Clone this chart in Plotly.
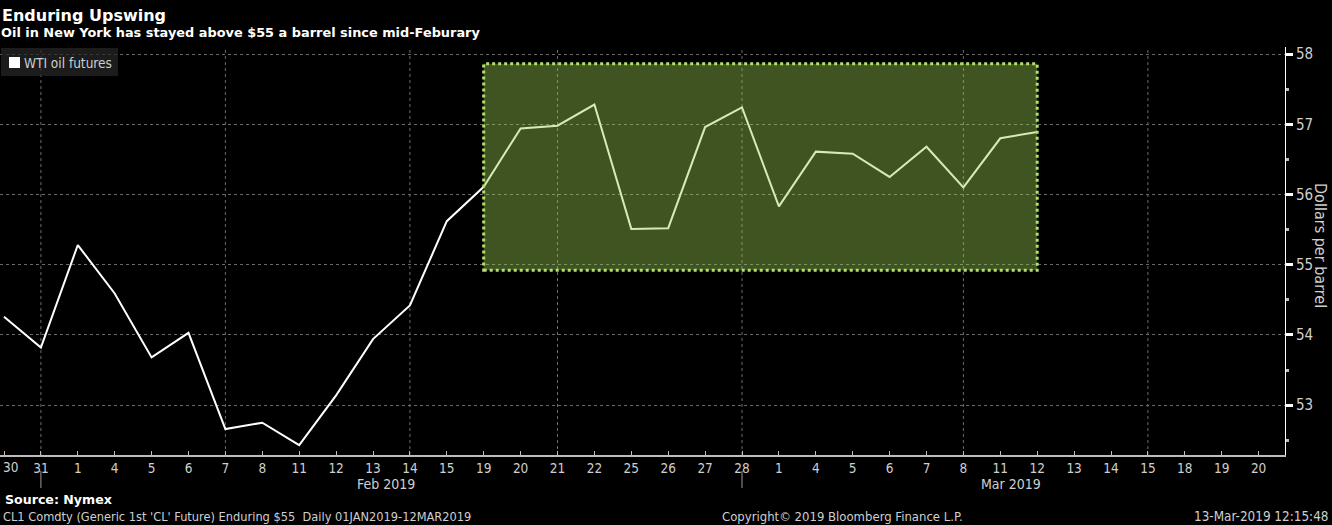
import plotly.graph_objects as go

# ---------------- data ----------------
TICK_LABELS = ["30", "31", "1", "4", "5", "6", "7", "8", "11", "12", "13", "14", "15",
               "19", "20", "21", "22", "25", "26", "27", "28",
               "1", "4", "5", "6", "7", "8", "11", "12", "13", "14", "15", "18", "19", "20"]
# WTI front-month settlements, 30 Jan 2019 .. 12 Mar 2019
WTI_PRICES = [54.26, 53.82, 55.28, 54.59, 53.68, 54.03, 52.66, 52.75, 52.43, 53.14,
              53.94, 54.42, 55.62, 56.11, 56.94, 56.98, 57.28, 55.51, 55.52, 56.96,
              57.24, 55.83, 56.61, 56.58, 56.25, 56.68, 56.10, 56.80, 56.89]
SERIES_NAME = "WTI oil futures"
Y_TICKS = [53, 54, 55, 56, 57, 58]
GRID_INDEX = [1, 6, 11, 15, 20, 26, 31]          # weekly vertical gridlines
MONTH_END_INDEX = [1, 20]                          # 31 Jan, 28 Feb separators
MONTH_LABELS = ["Feb 2019", "Mar 2019"]
MONTH_LABEL_POS = [10.35, 27.3]
HIGHLIGHT_X = [13, 28]                             # 19 Feb .. 12 Mar
HIGHLIGHT_Y = [54.92, 57.86]

# ---------------- geometry helpers ----------------
W, H = 1332, 525
PL, PR, PT, PB = 0, 1285, 47, 455      # plot area in pixels
def px(xp):
    return (xp - PL) / (PR - PL)
def py(yp):
    return (PB - yp) / (PB - PT)

NARROW = "Liberation Sans Narrow, DejaVu Sans Condensed, Arial Narrow, sans-serif"
BOLD = "DejaVu Sans, Verdana, sans-serif"
GREY = "#cfcfcf"

x_idx = list(range(len(WTI_PRICES)))
# first label sits at the very page edge: it is drawn left-anchored below instead
tick_text = [""] + TICK_LABELS[1:]

fig = go.Figure()
fig.add_trace(go.Scatter(x=x_idx, y=WTI_PRICES, mode="lines", name=SERIES_NAME,
                         line=dict(color="white", width=2), showlegend=False,
                         hoverinfo="skip"))

shapes = []
for gi in GRID_INDEX:
    shapes.append(dict(type="line", xref="x", yref="paper", x0=gi, x1=gi, y0=0, y1=1,
                       line=dict(color="#6b6b6b", width=1, dash="dot"), layer="below"))
for mi in MONTH_END_INDEX:
    shapes.append(dict(type="line", xref="x", yref="paper", x0=mi, x1=mi,
                       y0=py(471), y1=py(488), line=dict(color="#9a9a9a", width=1)))
shapes.append(dict(type="rect", xref="x", yref="y",
                   x0=HIGHLIGHT_X[0], x1=HIGHLIGHT_X[1], y0=HIGHLIGHT_Y[0], y1=HIGHLIGHT_Y[1],
                   fillcolor="rgba(154,205,78,0.41)",
                   line=dict(color="#b3e06c", width=3, dash="dot"), layer="above"))
# legend box and key
shapes.append(dict(type="rect", xref="paper", yref="paper", x0=px(1), x1=px(118),
                   y0=py(76), y1=py(48), fillcolor="rgba(38,38,38,0.75)",
                   line=dict(width=0), layer="above"))
shapes.append(dict(type="rect", xref="paper", yref="paper", x0=px(9), x1=px(20),
                   y0=py(68), y1=py(57), fillcolor="white", line=dict(width=0),
                   layer="above"))

annotations = [
    dict(text="<b>Enduring Upswing</b>", x=px(0), y=py(15), xref="paper", yref="paper",
         xanchor="left", yanchor="middle", showarrow=False,
         font=dict(family=BOLD, size=16, color="white")),
    dict(text="<b>Oil in New York has stayed above $55 a barrel since mid-Feburary</b>",
         x=px(-1), y=py(33), xref="paper", yref="paper", xanchor="left", yanchor="middle",
         showarrow=False, font=dict(family=BOLD, size=12.9, color="white")),
    dict(text=SERIES_NAME, x=px(22), y=py(63), xref="paper", yref="paper",
         xanchor="left", yanchor="middle", showarrow=False,
         font=dict(family=NARROW, size=13.5, color=GREY)),
    dict(text=TICK_LABELS[0], x=px(1), y=py(467), xref="paper", yref="paper",
         xanchor="left", yanchor="middle", showarrow=False,
         font=dict(family=NARROW, size=13.5, color=GREY)),
    dict(text="Dollars per barrel", textangle=90, x=px(1321), y=py(246), xref="paper",
         yref="paper", xanchor="center", yanchor="middle", showarrow=False,
         font=dict(family=NARROW, size=16, color=GREY)),
    dict(text="<b>Source: Nymex</b>", x=px(3), y=py(499), xref="paper", yref="paper",
         xanchor="left", yanchor="middle", showarrow=False,
         font=dict(family=BOLD, size=12.6, color="white")),
    dict(text="CL1 Comdty (Generic 1st 'CL' Future) Enduring $55  Daily 01JAN2019-12MAR2019",
         x=px(1), y=py(516), xref="paper", yref="paper", xanchor="left", yanchor="middle",
         showarrow=False, font=dict(family=NARROW, size=12.7, color=GREY)),
    dict(text="Copyright\u00a9 2019 Bloomberg Finance L.P.", x=px(720), y=py(516),
         xref="paper", yref="paper", xanchor="left", yanchor="middle", showarrow=False,
         font=dict(family=NARROW, size=13, color=GREY)),
    dict(text="13-Mar-2019 12:15:48", x=px(1330), y=py(516), xref="paper", yref="paper",
         xanchor="right", yanchor="middle", showarrow=False,
         font=dict(family=NARROW, size=13.4, color=GREY)),
]
for lbl, pos in zip(MONTH_LABELS, MONTH_LABEL_POS):
    annotations.append(dict(text=lbl, x=pos, y=py(484), xref="x", yref="paper",
                            xanchor="center", yanchor="middle", showarrow=False,
                            font=dict(family=NARROW, size=14, color=GREY)))

x0 = -4 / 36.9
x1 = (PR - 4) / 36.9
fig.update_layout(
    width=W, height=H,
    margin=dict(l=PL, r=W - PR, t=PT, b=H - PB, pad=0, autoexpand=False),
    paper_bgcolor="black", plot_bgcolor="black",
    shapes=shapes, annotations=annotations,
    showlegend=False,
    xaxis=dict(range=[x0, x1], tickmode="array", tickvals=list(range(len(TICK_LABELS))),
               ticktext=tick_text, showgrid=False, zeroline=False, automargin=False,
               showline=True, linecolor="#bdbdbd", linewidth=2,
               ticks="inside", ticklen=4, tickcolor="#bdbdbd",
               ticklabeloverflow="allow",
               tickfont=dict(family=NARROW, size=13.5, color=GREY)),
    yaxis=dict(range=[52.29, 58.1], side="right", tickmode="array", tickvals=Y_TICKS,
               automargin=False,
               showgrid=True, gridcolor="#6b6b6b", griddash="dot", gridwidth=1,
               zeroline=False, showline=True, linecolor="white", linewidth=1,
               ticks="outside", ticklen=7, tickwidth=3, tickcolor="white",
               minor=dict(dtick=0.5, ticks="outside", ticklen=3, tickcolor="#bdbdbd",
                          showgrid=False),
               tickfont=dict(family=NARROW, size=15, color=GREY)),
)
fig.write_html("out.html")
